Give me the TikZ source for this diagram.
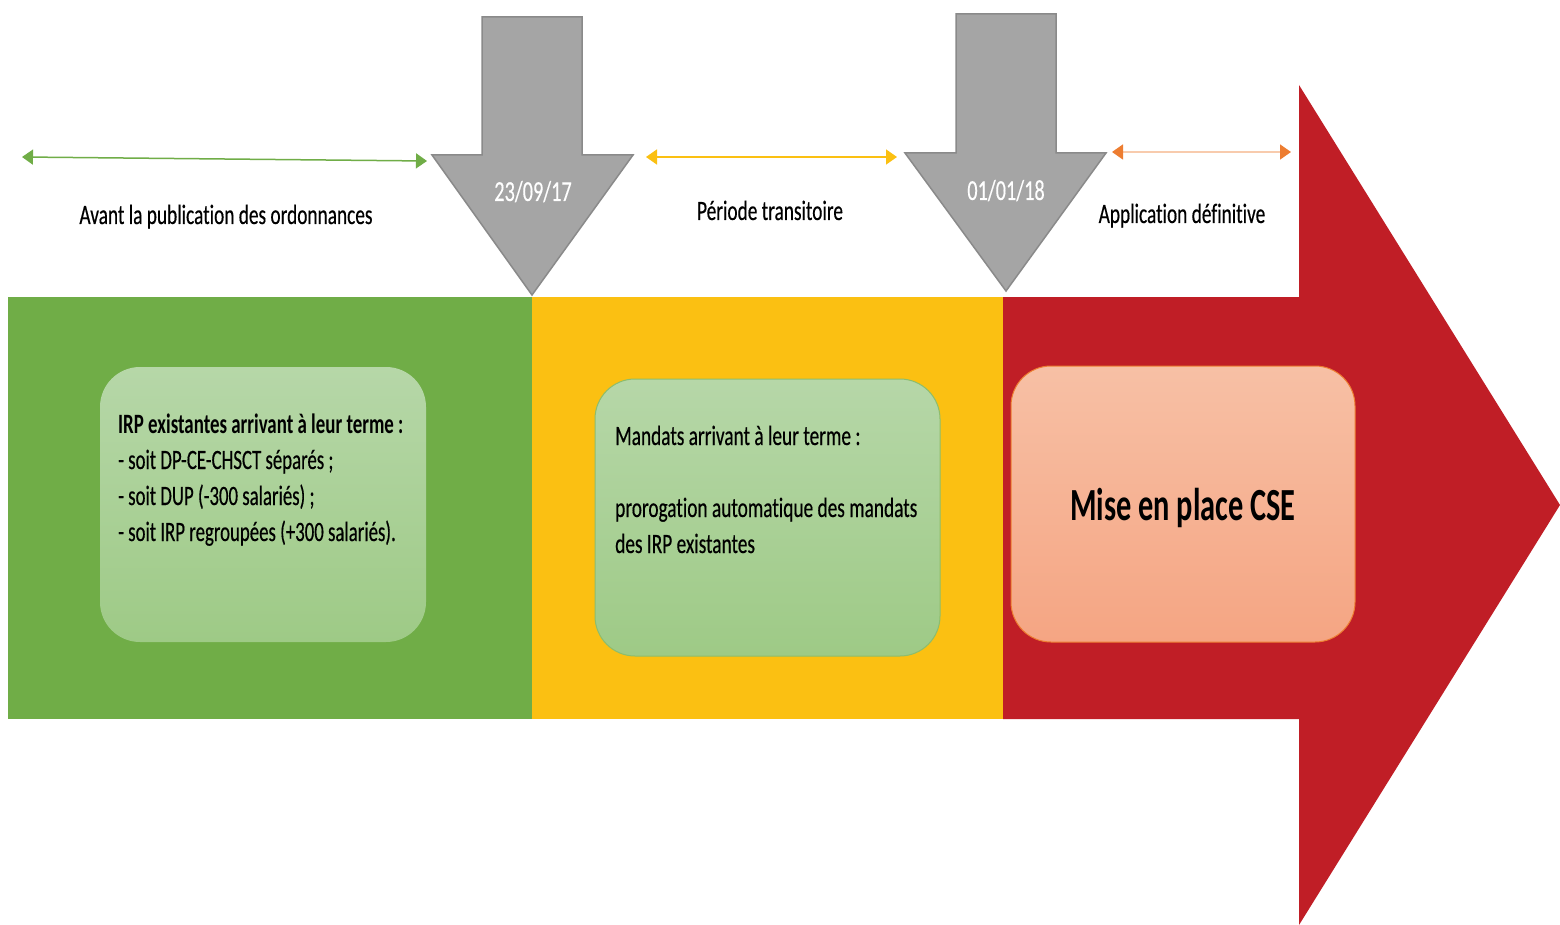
\documentclass[tikz,border=0pt]{standalone}
\usepackage{fontspec}
\setmainfont{Carlito}[Ligatures=NoCommon]
\newfontfamily\labfont[FakeStretch=0.69,FakeBold=0.4,Ligatures=NoCommon]{Carlito}
\newfontfamily\boxfont[FakeStretch=0.672,FakeBold=0.4,Ligatures=NoCommon]{Carlito}
\newfontfamily\labboldfont[FakeStretch=0.675,Ligatures=NoCommon]{Carlito}
\newfontfamily\datefont[FakeStretch=0.70,FakeBold=0.3,Ligatures=NoCommon]{Carlito}
\newfontfamily\bigfont[FakeStretch=0.66,Ligatures=NoCommon]{Carlito}
\usetikzlibrary{arrows.meta}
\definecolor{cgreen}{HTML}{70AD47}
\definecolor{cyellow}{HTML}{FBC012}
\definecolor{cred}{HTML}{C01E26}
\definecolor{cgray}{HTML}{A5A5A5}
\definecolor{cgrayline}{HTML}{8A8A8A}
\definecolor{corange}{HTML}{ED7D31}
\definecolor{corangeline}{HTML}{F8CBAD}
\definecolor{gtop}{HTML}{B6D7A8}
\definecolor{gbot}{HTML}{9ECA86}
\definecolor{otop}{HTML}{F7C0A5}
\definecolor{obot}{HTML}{F5A583}
\begin{document}
\begin{tikzpicture}[x=1pt,y=-1pt,
  lbl/.style={font=\labfont\fontsize{28}{32}\selectfont, anchor=base, inner sep=0pt},
  datelbl/.style={font=\datefont\fontsize{29}{32}\selectfont, text=white, anchor=base, inner sep=0pt},
  boxline/.style={font=\labfont\fontsize{28}{32}\selectfont, anchor=base west, inner sep=0pt},
  boxlineA/.style={font=\boxfont\fontsize{28}{32}\selectfont, anchor=base west, inner sep=0pt},
  boxlinebold/.style={font=\labboldfont\bfseries\fontsize{28}{32}\selectfont, anchor=base west, inner sep=0pt},
  rbox/.style={shape=rectangle, rounded corners=40pt, inner sep=0pt},
  garrow/.style={fill=cgray, draw=cgrayline, line width=1.5pt, line join=miter},
  dbl/.style={line width=1.5pt, {Triangle[length=11pt,width=15pt]}-{Triangle[length=11pt,width=15pt]}}
]
\useasboundingbox (0,0) rectangle (1560,925);
\fill[white] (0,0) rectangle (1560,925);

% coloured bands
\fill[cgreen] (8,297) rectangle (532,719);
\fill[cyellow] (532,297) rectangle (1003,719);
\fill[cred] (1003,297) -- (1299,297) -- (1299,85) -- (1560,505) -- (1299,925) -- (1299,719) -- (1003,719) -- cycle;

% grey date arrows
\draw[garrow] (482,17) -- (582,17) -- (582,155) -- (633,155) -- (532,295) -- (432,155) -- (482,155) -- cycle;
\draw[garrow] (956,14) -- (1056,14) -- (1056,153) -- (1106,153) -- (1006,291) -- (905,153) -- (956,153) -- cycle;
\node[datelbl] (d1) at (533,201) {23/09/17};
\node[datelbl] (d2) at (1006,200) {01/01/18};

% period double arrows
\coordinate (ga) at (22,157);
\coordinate (gb) at (427,161);
\coordinate (ya) at (646,157);
\coordinate (yb) at (897,157);
\coordinate (oa) at (1112,152);
\coordinate (ob) at (1291,152);
\draw[dbl, cgreen] (ga) -- (gb);
\draw[dbl, cyellow] (ya) -- (yb);
\draw[line width=1.5pt, corangeline, {Triangle[length=11pt,width=15pt,color=corange]}-{Triangle[length=11pt,width=15pt,color=corange]}] (oa) -- (ob);

\node[lbl] (l1) at (226,224) {Avant la publication des ordonnances};
\node[lbl] (l2) at (770,220) {Période transitoire};
\node[lbl] (l3) at (1182,223) {Application définitive};

% boxes
\node[rbox, top color=gtop, bottom color=gbot, minimum width=326pt, minimum height=275pt] (b1) at (263,504.5) {};
\node[boxlinebold] (b1a) at (118,433) {IRP existantes arrivant à leur terme :};
\node[boxlineA] (b1b) at (118,469) {- soit DP-CE-CHSCT séparés ;};
\node[boxlineA] (b1c) at (118,505) {- soit DUP (-300 salariés) ;};
\node[boxlineA] (b1d) at (118,541) {- soit IRP regroupées (+300 salariés).};

\node[rbox, top color=gtop, bottom color=gbot, draw=cgreen!80!white, line width=1pt, minimum width=345pt, minimum height=277pt] (b2) at (767.5,517.5) {};
\node[boxline] (b2a) at (615,445) {Mandats arrivant à leur terme :};
\node[boxline] (b2b) at (615,517) {prorogation automatique des mandats};
\node[boxline] (b2c) at (615,553) {des IRP existantes};

\node[rbox, top color=otop, bottom color=obot, draw=corange, line width=1pt, minimum width=344pt, minimum height=276pt] (b3) at (1183,504) {};
\node[font=\bigfont\bfseries\fontsize{46}{50}\selectfont, anchor=base, inner sep=0pt] (b3a) at (1183,520) {Mise en place CSE};
\end{tikzpicture}
\end{document}
